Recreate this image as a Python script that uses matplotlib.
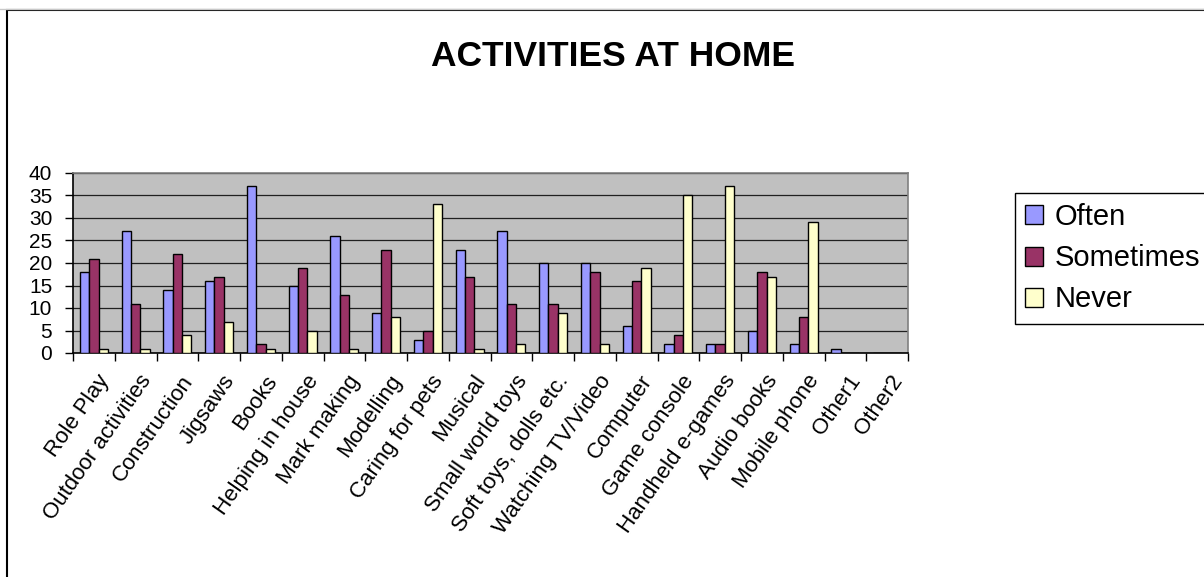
import numpy as np
import matplotlib
matplotlib.use("Agg")
import matplotlib.pyplot as plt
import matplotlib.transforms as mtrans
from matplotlib.patches import Rectangle
from matplotlib.lines import Line2D

plt.rcParams['font.family'] = ['Liberation Sans', 'DejaVu Sans']

#---------Survey data-----------
activities = ["Role Play", "Outdoor activities", "Construction", "Jigsaws", "Books",
              "Helping in house", "Mark making", "Modelling", "Caring for pets", "Musical",
              "Small world toys", "Soft toys, dolls etc.", "Watching TV/Video", "Computer",
              "Game console", "Handheld e-games", "Audio books", "Mobile phone", "Other1", "Other2"]
often = [18, 27, 14, 16, 37, 15, 26, 9, 3, 23, 27, 20, 20, 6, 2, 2, 5, 2, 1, 0]
sometimes = [21, 11, 22, 17, 2, 19, 13, 23, 5, 17, 11, 11, 18, 16, 4, 2, 18, 8, 0, 0]
never = [1, 1, 4, 7, 1, 5, 1, 8, 33, 1, 2, 9, 2, 19, 35, 37, 17, 29, 0, 0]
series_names = ["Often", "Sometimes", "Never"]
series_colors = ["#9999FF", "#993366", "#FFFFCC"]
yticks = [0, 5, 10, 15, 20, 25, 30, 35, 40]

W, H = 1204, 577

#--------------------Draw grouped bar chart-----------
fig = plt.figure(figsize=(W / 100, H / 100), dpi=100)
ax = fig.add_axes([73 / W, 1 - 353 / H, (908 - 73) / W, 180 / H])
ax.set_facecolor("#C0C0C0")

x = np.arange(len(activities))
bw = 0.222
bars = []
for k, (vals, name, col) in enumerate(zip([often, sometimes, never], series_names, series_colors)):
    b = ax.bar(x + (k - 1) * bw, vals, width=bw, color=col, edgecolor="black",
               linewidth=1, label=name, zorder=3)
    bars.append(b)

ax.set_xlim(-0.5, len(activities) - 0.5)
ax.set_ylim(0, 40)
ax.set_yticks(yticks)
ax.set_yticklabels([str(v) for v in yticks], fontsize=15)
ax.yaxis.grid(True, color="#202020", linewidth=0.9, zorder=1)
ax.tick_params(axis="y", direction="out", length=6, width=1, pad=9)

ax.set_xticks(x)
ax.set_xticklabels(activities, rotation=55, ha="right", va="top",
                   rotation_mode="anchor", fontsize=16)
ax.set_xticks(np.arange(len(activities) + 1) - 0.5, minor=True)
ax.tick_params(axis="x", which="major", length=0, pad=13)
ax.tick_params(axis="x", which="minor", direction="out", length=6, width=1)

# small nudge of the slanted category names to the right
shift = mtrans.ScaledTranslation(0.03, 0, fig.dpi_scale_trans)
for lab in ax.get_xticklabels():
    lab.set_transform(lab.get_transform() + shift)

ax.spines["left"].set_color("black")
ax.spines["bottom"].set_color("black")
ax.spines["top"].set_color("#808080")
ax.spines["right"].set_color("#808080")
for s in ax.spines.values():
    s.set_linewidth(1.2)

fig.text(613 / W, 1 - 56 / H, "ACTIVITIES AT HOME", ha="center", va="center",
         fontsize=25.5, fontweight="bold")

leg = fig.legend(handles=bars, labels=series_names, loc="upper left",
                 bbox_to_anchor=(1015 / W, 1 - 193 / H), fontsize=21,
                 handlelength=0.62, handleheight=0.62, handletextpad=0.38,
                 labelspacing=0.45, borderpad=0.35, borderaxespad=0,
                 fancybox=False, framealpha=1)
leg.get_frame().set_edgecolor("black")
leg.get_frame().set_linewidth(1)

# outer chart border
fig.add_artist(Line2D([0, 1], [1 - 8.8 / H, 1 - 8.8 / H], transform=fig.transFigure,
                      color="#C8C8C8", linewidth=1))
fig.add_artist(Rectangle((7 / W, -0.1), 1.1, 1.1 - 10 / H, transform=fig.transFigure,
                         fill=False, edgecolor="black", linewidth=1.5))

plt.savefig("out.png", dpi=100)
